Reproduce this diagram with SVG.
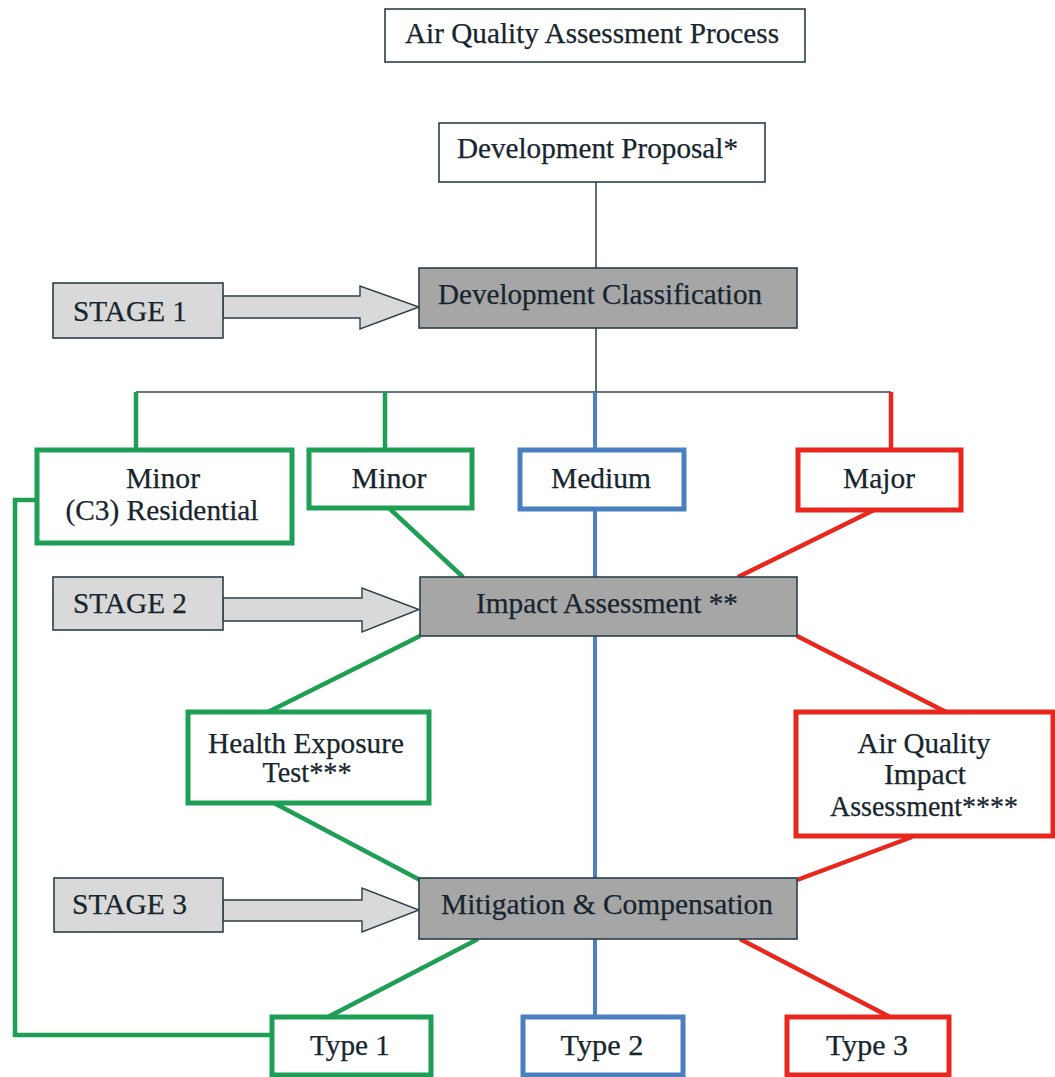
<svg xmlns="http://www.w3.org/2000/svg" width="1055" height="1077" viewBox="0 0 1055 1077">
<style>
text{font-family:"Liberation Serif","Times New Roman",serif;font-size:28.5px;fill:#17252e;stroke:#17252e;stroke-width:0.25;text-anchor:middle}
.plain{fill:#fff;stroke:#2b3f4a;stroke-width:1.6}
.dark{fill:#a6a6a6;stroke:#2b3f4a;stroke-width:1.6}
.light{fill:#d9d9d9;stroke:#2b3f4a;stroke-width:1.6}
.g{fill:#fff;stroke:#1f9e55;stroke-width:5}
.b{fill:#fff;stroke:#4a80c0;stroke-width:5}
.r{fill:#fff;stroke:#e8281e;stroke-width:5}
.lg{fill:none;stroke:#1f9e55;stroke-width:4.5}
.lb{fill:none;stroke:#4a80c0;stroke-width:4}
.lr{fill:none;stroke:#e8281e;stroke-width:4.5}
.lk{fill:none;stroke:#3a4a52;stroke-width:1.6}
.arr{fill:#d9d9d9;stroke:#2b3f4a;stroke-width:1.4}
.s{text-anchor:start}
</style>
<rect width="1055" height="1077" fill="#fff"/>
<g id="connectors">
<path class="lk" d="M596,182V268M596,328V392M136,392H891"/>
<path class="lb" d="M595,392V1017"/>
<path class="lg" d="M136,392V450M385,392V450M389,508L463,577M420,636L268,712M274,803L420,880M478,939L328,1017M36,500H15V1035H272"/>
<path class="lr" d="M891,392V450M874,510L738,577M797,636L946,712M912,837L797,880M740,939L890,1017"/>
<path class="arr" d="M223,296H360V286L419,307L360,329V318H223Z"/>
<path class="arr" d="M223,598H362V588L419,609.5L362,632V621H223Z"/>
<path class="arr" d="M223,900H362V888L419,910L362,932V921H223Z"/>
</g>
<g id="title"><rect class="plain" x="385" y="9" width="420" height="53"/><text x="592" y="43" textLength="374" lengthAdjust="spacingAndGlyphs">Air Quality Assessment Process</text></g>
<g id="proposal"><rect class="plain" x="439" y="123" width="326" height="59"/><text x="597.5" y="158" textLength="281" lengthAdjust="spacingAndGlyphs">Development Proposal*</text></g>
<g id="classification"><rect class="dark" x="419" y="268" width="378" height="60"/><text x="600" y="304" textLength="324" lengthAdjust="spacingAndGlyphs">Development Classification</text></g>
<g id="stage1"><rect class="light" x="53" y="283" width="170" height="55"/><text class="s" x="73" y="321" textLength="114" lengthAdjust="spacingAndGlyphs">STAGE 1</text></g>
<g id="minor-c3"><rect class="g" x="37" y="450" width="255" height="93"/><text x="163" y="488" textLength="74" lengthAdjust="spacingAndGlyphs">Minor</text><text x="162" y="520" textLength="193" lengthAdjust="spacingAndGlyphs">(C3) Residential</text></g>
<g id="minor"><rect class="g" x="309" y="450" width="163" height="58"/><text x="389" y="488" textLength="75" lengthAdjust="spacingAndGlyphs">Minor</text></g>
<g id="medium"><rect class="b" x="520" y="450" width="164" height="59"/><text x="601" y="488" textLength="100" lengthAdjust="spacingAndGlyphs">Medium</text></g>
<g id="major"><rect class="r" x="798" y="450" width="163" height="60"/><text x="879" y="488" textLength="72" lengthAdjust="spacingAndGlyphs">Major</text></g>
<g id="stage2"><rect class="light" x="53" y="577" width="170" height="53"/><text class="s" x="73" y="613" textLength="114" lengthAdjust="spacingAndGlyphs">STAGE 2</text></g>
<g id="impact"><rect class="dark" x="420" y="577" width="377" height="59"/><text x="607" y="613" textLength="262" lengthAdjust="spacingAndGlyphs">Impact Assessment **</text></g>
<g id="health"><rect class="g" x="188" y="712" width="241" height="91"/><text x="306" y="753" textLength="196" lengthAdjust="spacingAndGlyphs">Health Exposure</text><text x="307" y="782" textLength="89" lengthAdjust="spacingAndGlyphs">Test***</text></g>
<g id="aqia"><rect class="r" x="796" y="712" width="257" height="124"/><text x="924" y="753" textLength="133" lengthAdjust="spacingAndGlyphs">Air Quality</text><text x="925" y="784" textLength="82" lengthAdjust="spacingAndGlyphs">Impact</text><text x="924" y="816" textLength="188" lengthAdjust="spacingAndGlyphs">Assessment****</text></g>
<g id="stage3"><rect class="light" x="54" y="878" width="169" height="54"/><text class="s" x="72" y="914" textLength="115" lengthAdjust="spacingAndGlyphs">STAGE 3</text></g>
<g id="mitigation"><rect class="dark" x="419" y="878" width="378" height="61"/><text x="607" y="914" textLength="332" lengthAdjust="spacingAndGlyphs">Mitigation &amp; Compensation</text></g>
<g id="type1"><rect class="g" x="272" y="1017" width="159" height="58"/><text x="350" y="1055" textLength="80" lengthAdjust="spacingAndGlyphs">Type 1</text></g>
<g id="type2"><rect class="b" x="523" y="1017" width="160" height="58"/><text x="602" y="1055" textLength="83" lengthAdjust="spacingAndGlyphs">Type 2</text></g>
<g id="type3"><rect class="r" x="787" y="1017" width="162" height="58"/><text x="867" y="1055" textLength="82" lengthAdjust="spacingAndGlyphs">Type 3</text></g>
</svg>
